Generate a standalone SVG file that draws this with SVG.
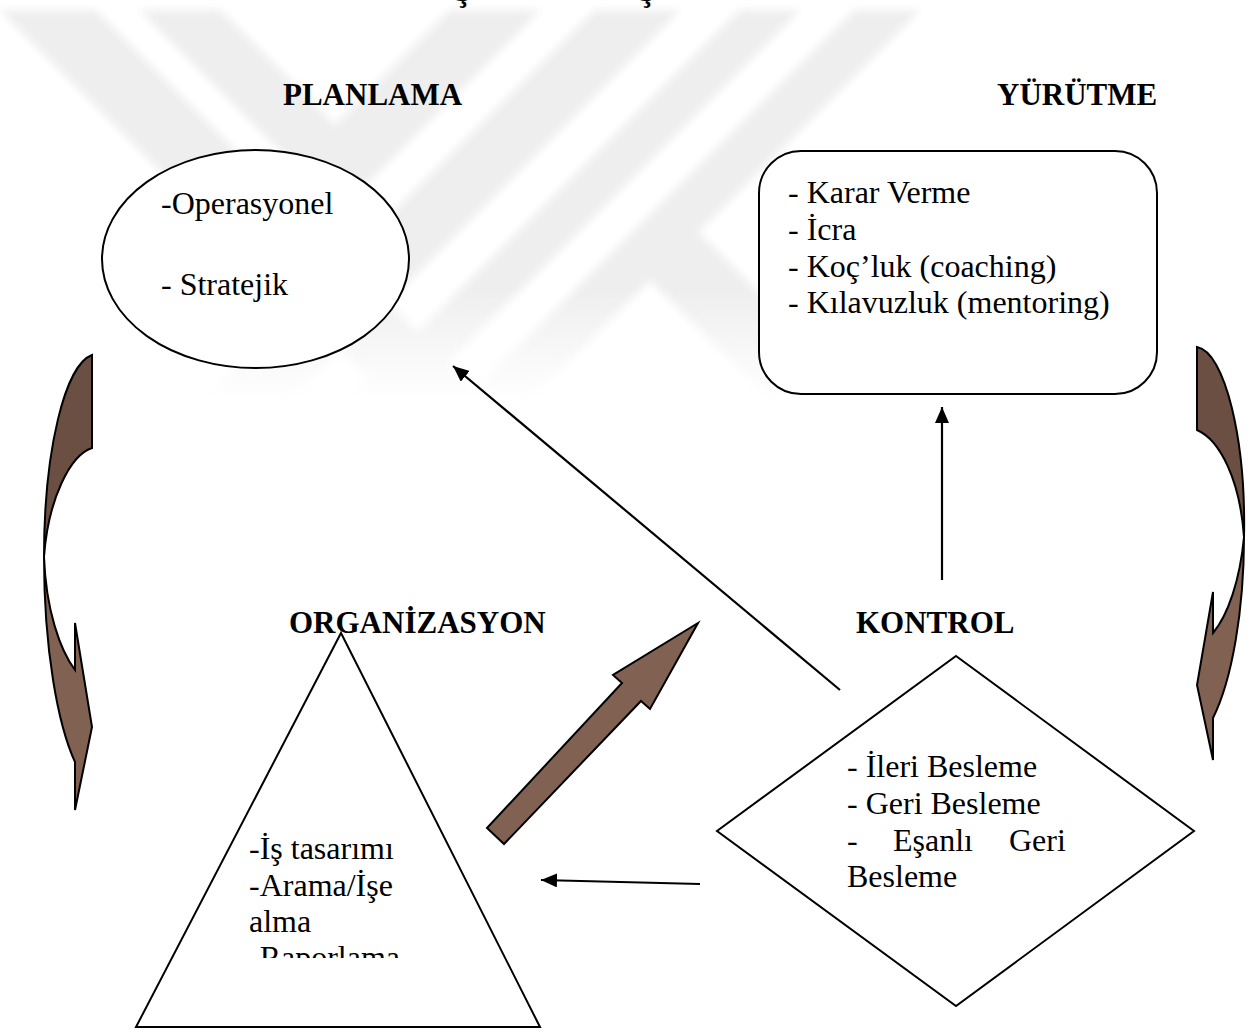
<svg xmlns="http://www.w3.org/2000/svg" width="1260" height="1032" viewBox="0 0 1260 1032">
<defs>
<style>
.t{font-family:"Liberation Serif","Times New Roman",serif;font-size:32px;fill:#000}
.h{font-family:"Liberation Serif","Times New Roman",serif;font-size:31px;font-weight:bold;fill:#000}
.s{fill:#fff;stroke:#000;stroke-width:2}
.c{stroke:#000;stroke-width:2.2;fill:none}
.dk{fill:#6c4f43;stroke:#000;stroke-width:2;stroke-linejoin:miter}
.lt{fill:#806152;stroke:#000;stroke-width:2;stroke-linejoin:miter}
.wm{fill:#eeeeee}
</style>
<marker id="ah" viewBox="0 0 16 14" refX="16" refY="7" markerWidth="16" markerHeight="14" markerUnits="userSpaceOnUse" orient="auto"><path d="M0,0 L16,7 L0,14 Z" fill="#000"/></marker>
<linearGradient id="fade" gradientUnits="userSpaceOnUse" x1="0" y1="0" x2="0" y2="400"><stop offset="0.72" stop-color="#fff"/><stop offset="1" stop-color="#000"/></linearGradient>
<mask id="wmask"><rect x="0" y="0" width="1260" height="420" fill="url(#fade)"/></mask>
<filter id="blur" x="-10%" y="-10%" width="120%" height="120%"><feGaussianBlur stdDeviation="4"/></filter>
<clipPath id="triclip"><rect x="200" y="820" width="260" height="138"/></clipPath>
</defs>

<g id="watermark" class="wm" mask="url(#wmask)" filter="url(#blur)">
<polygon points="0,10 95,10 485,400 390,400"/>
<polygon points="140,10 220,10 335,125 450,10 540,10 340,210"/>
<polygon points="595,10 680,10 290,400 205,400"/>
<polygon points="740,10 800,10 410,400 350,400"/>
<polygon points="855,10 920,10 530,400 465,400"/>
<polygon points="693,227 866,400 770,400 650,280"/>
</g>

<g id="top-cut">
<text class="h" x="463" y="1" text-anchor="middle">Ş</text>
<text class="h" x="647" y="1" text-anchor="middle">Ş</text>
</g>

<g id="planlama">
<text class="h" x="283" y="105">PLANLAMA</text>
<ellipse class="s" cx="255.5" cy="259" rx="153.5" ry="109"/>
<text class="t" x="161" y="214">-Operasyonel</text>
<text class="t" x="161" y="295">- Stratejik</text>
</g>

<g id="yurutme">
<text class="h" x="997" y="105">YÜRÜTME</text>
<rect class="s" x="759" y="151" width="398" height="243" rx="42" ry="42"/>
<text class="t" x="788" y="203">- Karar Verme</text>
<text class="t" x="788" y="240">- İcra</text>
<text class="t" x="788" y="277">- Koç’luk (coaching)</text>
<text class="t" x="788" y="313">- Kılavuzluk (mentoring)</text>
</g>

<g id="organizasyon">
<text class="h" x="289" y="633">ORGANİZASYON</text>
<polygon class="s" points="341,633 540,1027 136,1027"/>
<text class="t" x="249" y="859">-İş tasarımı</text>
<text class="t" x="249" y="896">-Arama/İşe</text>
<text class="t" x="249" y="932">alma</text>
<text class="t" x="249" y="968" clip-path="url(#triclip)">-Raporlama</text>
</g>

<g id="kontrol">
<text class="h" x="856" y="633">KONTROL</text>
<polygon class="s" points="956,656 1194,831 956,1006 717,831"/>
<text class="t" x="847" y="777">- İleri Besleme</text>
<text class="t" x="847" y="814">- Geri Besleme</text>
<text class="t" y="851"><tspan x="847">-</tspan><tspan x="893">Eşanlı</tspan><tspan x="1009">Geri</tspan></text>
<text class="t" x="847" y="887">Besleme</text>
</g>

<g id="connectors">
<line class="c" x1="840" y1="690" x2="453" y2="366" marker-end="url(#ah)"/>
<line class="c" x1="942" y1="580" x2="942" y2="407" marker-end="url(#ah)"/>
<line class="c" x1="700" y1="884" x2="541" y2="880" marker-end="url(#ah)"/>
<polygon class="lt" points="487,828 622,683 613,675 698,623 650,709 641,701 504,844"/>
<path class="dk" d="M92,355 L92,448 C70,455 48,500 44,557 C44,450 65,365 92,355 Z"/>
<path class="lt" d="M44,557 C44,650 58,725 75,762 L75,810 L92,727 L75,623 L75,670 C60,650 46,610 44,557 Z"/>
<path class="dk" d="M1197,347 L1197,430 C1220,440 1240,480 1244,537 C1246,440 1225,352 1197,347 Z"/>
<path class="lt" d="M1244,537 C1244,610 1232,680 1213,718 L1213,760 L1197,685 L1213,592 L1213,633 C1228,615 1240,580 1244,537 Z"/>
</g>
</svg>
